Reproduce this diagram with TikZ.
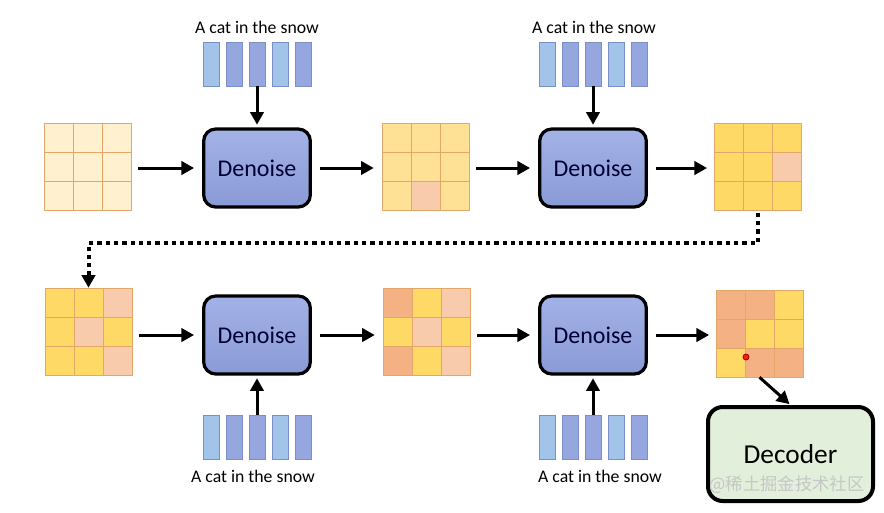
\documentclass[tikz,border=0pt]{standalone}
\usepackage{fontspec}
\setmainfont{Carlito}
\newfontfamily\cjkfont{Noto Sans CJK SC}
\usetikzlibrary{arrows.meta,positioning}

\definecolor{pale}{HTML}{FFF0CF}
\definecolor{lightgold}{HTML}{FEE195}
\definecolor{gold}{HTML}{FFD966}
\definecolor{peach}{HTML}{F8CBAD}
\definecolor{orng}{HTML}{F4B183}
\definecolor{gridline}{HTML}{E3A869}
\definecolor{boxtop}{HTML}{A3B2E6}
\definecolor{boxbot}{HTML}{8A9AD6}
\definecolor{barlight}{HTML}{A2C4E8}
\definecolor{barmid}{HTML}{96A6DE}
\definecolor{barline}{HTML}{7A8FC8}
\definecolor{decgreen}{HTML}{E2EFDA}

% 3x3 latent: name, left, top, nine colours
\newcommand{\latent}[4]{%
  \foreach \c [count=\i from 0] in {#4} {
    \pgfmathtruncatemacro{\col}{mod(\i,3)}
    \pgfmathtruncatemacro{\row}{div(\i,3)}
    \filldraw [fill=\c, draw=gridline, line width=0.7pt] ({#2+29*\col},{#3+29*\row}) rectangle ++(29,29);
  }
  \node [minimum size=65.25pt] (#1) at ({#2+43.5},{#3+43.5}) {};
}

% five prompt tokens: name, left, top
\newcommand{\prompt}[3]{%
  \foreach \c [count=\i from 0] in {barlight,barmid,barmid,barlight,barmid} {
    \filldraw [fill=\c, draw=barline, line width=0.6pt] ({#2+23*\i},#3) rectangle ++(16,44);
  }
  \node [minimum width=81pt, minimum height=33pt] (#1) at ({#2+54},{#3+22}) {};
}

\begin{document}
\begin{tikzpicture}[x=0.75pt,y=-0.75pt,
  denoise/.style={draw=black, line width=2.4pt, rounded corners=9pt, top color=boxtop, bottom color=boxbot,
    minimum width=80pt, minimum height=58.5pt, text=black!80!blue, font=\fontsize{18}{20}\selectfont},
  decoder/.style={draw=black, line width=3pt, rounded corners=11pt, fill=decgreen,
    minimum width=123.75pt, minimum height=70.5pt, font=\fontsize{20.5}{22}\selectfont},
  caption/.style={font=\fontsize{13.3}{15}\selectfont},
  flow/.style={line width=2.25pt, -{Triangle[length=9.5pt,width=10pt]}},
  jump/.style={line width=3pt, dash pattern=on 3.2pt off 3pt, -{Triangle[length=9.5pt,width=10pt]}}]
\tikzstyle{every node}+=[inner sep=0pt]
\useasboundingbox (0,0) rectangle (884,512);

\latent{g1}{44}{123}{pale,pale,pale,pale,pale,pale,pale,pale,pale}
\latent{g2}{382}{123}{lightgold,lightgold,lightgold,lightgold,lightgold,lightgold,lightgold,peach,lightgold}
\latent{g3}{714}{123}{gold,gold,gold,gold,gold,peach,gold,gold,gold}
\latent{g4}{45}{288}{gold,gold,peach,gold,peach,gold,gold,gold,peach}
\latent{g5}{383}{288}{orng,gold,peach,gold,peach,gold,orng,gold,peach}
\latent{g6}{716}{290}{orng,orng,gold,orng,gold,gold,gold,orng,orng}

\node [denoise] (d1) at (257,168) {Denoise};
\node [denoise] (d2) at (593,168) {Denoise};
\node [denoise] (d3) at (257,335) {Denoise};
\node [denoise] (d4) at (593,335) {Denoise};
\node [decoder] (dec) at (790.5,454) {Decoder};

\prompt{p1}{203}{42}
\prompt{p2}{539}{42}
\prompt{p3}{203}{415}
\prompt{p4}{539}{415}

\node [caption] (t1) at (257,27) {A cat in the snow};
\node [caption] (t2) at (594,27) {A cat in the snow};
\node [caption] (t3) at (253,476) {A cat in the snow};
\node [caption] (t4) at (600,476) {A cat in the snow};

\draw [flow, shorten <=5pt, shorten >=6pt] (g1.east |- d1.west) -- (d1.west);
\draw [flow, shorten <=6pt, shorten >=6pt] (d1.east) -- (g2.west |- d1.east);
\draw [flow, shorten <=5pt, shorten >=6pt] (g2.east |- d2.west) -- (d2.west);
\draw [flow, shorten <=6pt, shorten >=5pt] (d2.east) -- (g3.west |- d2.east);
\draw [flow, shorten <=5pt, shorten >=6pt] (g4.east |- d3.west) -- (d3.west);
\draw [flow, shorten <=6pt, shorten >=6pt] (d3.east) -- (g5.west |- d3.east);
\draw [flow, shorten <=5pt, shorten >=6pt] (g5.east |- d4.west) -- (d4.west);
\draw [flow, shorten <=6pt, shorten >=5pt] (d4.east) -- (g6.west |- d4.east);

\draw [flow, shorten >=2pt] (p1.south) -- (p1.south |- d1.north);
\draw [flow, shorten >=2pt] (p2.south) -- (p2.south |- d2.north);
\draw [flow, shorten >=2pt] (p3.north) -- (p3.north |- d3.south);
\draw [flow, shorten >=2pt] (p4.north) -- (p4.north |- d4.south);

\draw [jump, shorten <=2pt] (g3.south) -- ++(0,33) -| (g4.north);
\draw [flow, shorten >=1pt] (g6.south) -- (dec.north);

\filldraw [fill=red!90, draw=red!60!black, line width=0.6pt] (746,357) circle (3);

\node [text=gray!45, font=\cjkfont\fontsize{13}{15}\selectfont] (mark) at (787,485) {@稀土掘金技术社区};
\end{tikzpicture}
\end{document}
